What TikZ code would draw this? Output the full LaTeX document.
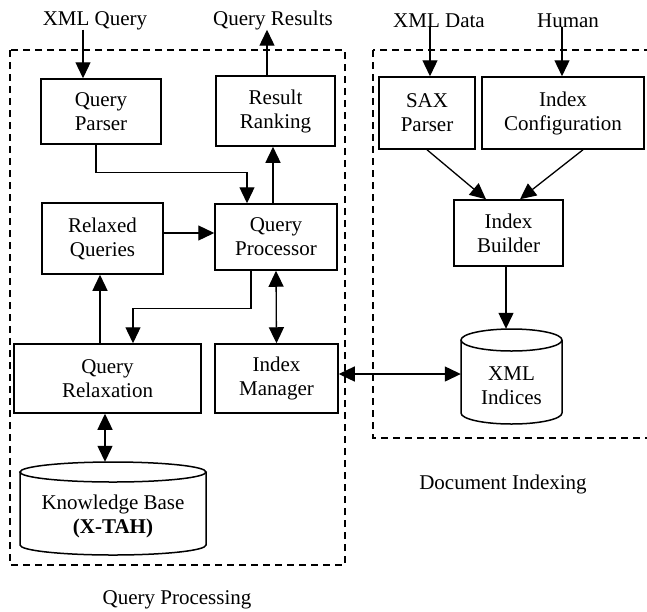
\documentclass[tikz,border=0pt]{standalone}
\usepackage{fontspec}
\setmainfont{Liberation Serif}
\usetikzlibrary{arrows.meta}
\begin{document}
\begin{tikzpicture}[x=1pt,y=-1pt,
  font=\fontsize{21}{24}\selectfont,
  block/.style={draw, line width=1.5pt, align=center, inner sep=0pt},
  label/.style={inner sep=0pt, anchor=base},
  arr/.style={line width=1.3pt, -{Triangle[length=16pt,width=15pt]}},
  dbl/.style={line width=1.3pt, {Triangle[length=16pt,width=15pt]}-{Triangle[length=16pt,width=15pt]}},
  region/.style={line width=1.2pt, dash pattern=on 7pt off 5pt},
  drum/.style={line width=1.5pt, fill=white}]
\useasboundingbox (0,0) rectangle (647,611);
\clip (0,0) rectangle (647,611);

% processing and indexing regions
\draw[region] (10,50) rectangle (345,565);
\draw[region] (373,50) rectangle (670,438);

% query processing blocks
\node[block, minimum width=120pt, minimum height=65pt] (qparser) at (101,111.5) {Query\\Parser};
\node[block, minimum width=119pt, minimum height=70pt] (ranking) at (275.5,111) {Result\\Ranking};
\node[block, minimum width=121pt, minimum height=71pt] (relaxed) at (102.5,238.5) {Relaxed\\Queries};
\node[block, minimum width=122pt, minimum height=66pt] (proc) at (276,237) {Query\\Processor};
\node[block, minimum width=187pt, minimum height=69pt] (relax) at (107.5,378.5) {Query\\Relaxation};
\node[block, minimum width=123pt, minimum height=69pt] (imgr) at (276.5,378.5) {Index\\Manager};

% knowledge base drum
\draw[drum] (20,472) -- (20,545) arc[start angle=180, end angle=360, x radius=93pt, y radius=10pt] -- (206,472);
\draw[drum] (113,472) ellipse[x radius=93pt, y radius=10pt];
\node[minimum width=186pt, minimum height=93pt, inner sep=0pt] (kb) at (113,508.5) {};
\node[align=center, inner sep=0pt] (kbtext) at (113,516) {Knowledge Base\\\textbf{(X-TAH)}};

% document indexing blocks
\node[block, minimum width=96pt, minimum height=72pt] (sax) at (427,113) {SAX\\Parser};
\node[block, minimum width=162pt, minimum height=72pt] (config) at (563,113) {Index\\Configuration};
\node[block, minimum width=109pt, minimum height=66pt] (builder) at (508.5,233) {Index\\Builder};

% XML indices drum
\draw[drum] (461,340) -- (461,413) arc[start angle=180, end angle=360, x radius=50.5pt, y radius=11pt] -- (562,340);
\draw[drum] (511.5,340) ellipse[x radius=50.5pt, y radius=11pt];
\node[minimum width=101pt, minimum height=95pt, inner sep=0pt] (idx) at (511.5,376.5) {};
\node[align=center, inner sep=0pt] (idxtext) at (511.5,386) {XML\\Indices};

% external inputs and outputs
\node[label] (xq) at (95,25) {XML Query};
\node[label] (qr) at (273,25) {Query Results};
\node[label] (xd) at (439,27) {XML Data};
\node[label] (hum) at (568,27) {Human};

% region captions
\node[label] (capq) at (177,604) {Query Processing};
\node[label] (capd) at (503,489) {Document Indexing};

% connectors of the query side
\draw[arr] ([xshift=-12pt]xq.south) -- ([xshift=-18pt]qparser.north);
\draw[arr] ([xshift=-8.5pt]ranking.north) -- ([xshift=-6pt]qr.south);
\draw[arr] ([xshift=-5pt]qparser.south) -- ++(0,28) -| ([xshift=-29pt]proc.north);
\draw[arr] ([xshift=-3pt]proc.north) -- ([xshift=-2.5pt]ranking.south);
\draw[arr] ([yshift=5.5pt]relaxed.east) -- ([yshift=4pt]proc.west);
\draw[arr] ([xshift=-7.5pt]relax.north) -- ([xshift=-2.5pt]relaxed.south);
\draw[arr] ([xshift=-25pt]proc.south) -- ++(0,38) -| ([xshift=25.5pt]relax.north);
\draw[dbl] (proc.south) -- (imgr.north);
\draw[dbl] ([xshift=-2.5pt]relax.south) -- ([xshift=-8pt]kb.north);

% connectors of the indexing side
\draw[arr] ([xshift=-9pt]xd.south) -- ([xshift=3pt]sax.north);
\draw[arr] ([xshift=-6pt]hum.south) -- ([xshift=-1pt]config.north);
\draw[arr] (sax.south) -- ([xshift=-22.5pt]builder.north);
\draw[arr] ([xshift=20pt]config.south) -- ([xshift=11.5pt]builder.north);
\draw[arr] ([xshift=-2.5pt]builder.south) -- ([xshift=-5.5pt]idx.north);
\draw[dbl] ([yshift=4.5pt]imgr.east) -- ([yshift=2.5pt]idx.west);
\end{tikzpicture}
\end{document}
